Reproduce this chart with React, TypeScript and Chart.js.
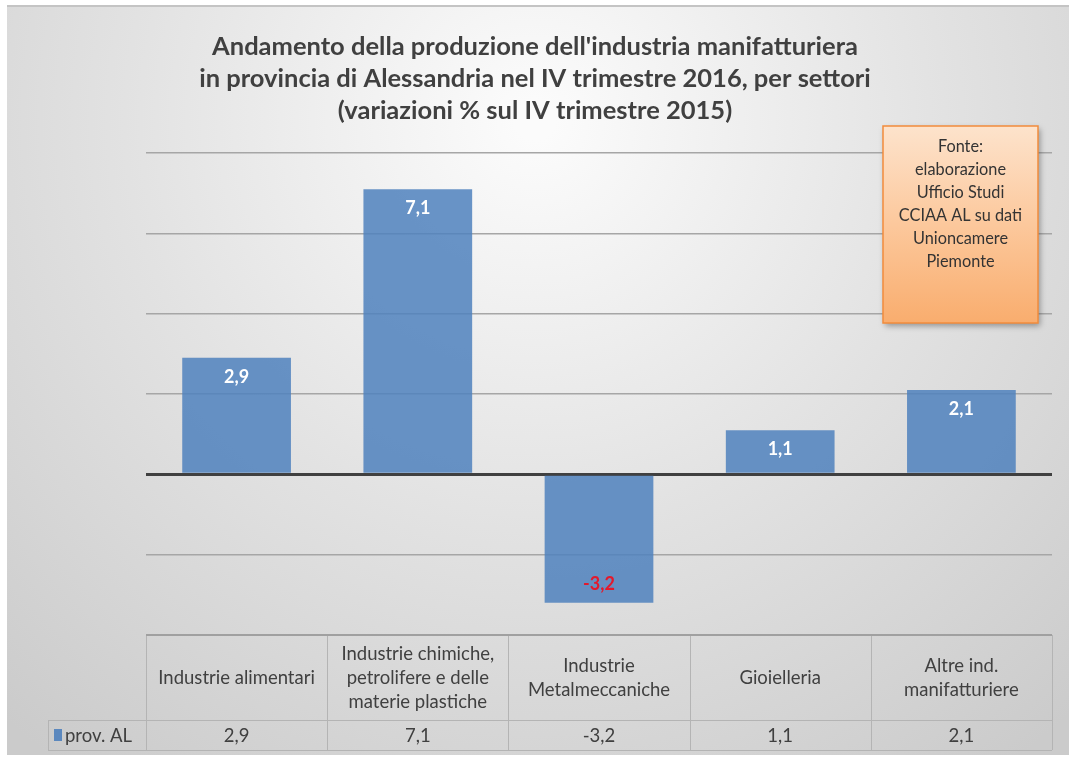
import React, { useEffect, useRef } from "react";
import { Chart, registerables } from "chart.js";

Chart.register(...registerables);

const categories: string[][] = [
  ["Industrie alimentari"],
  ["Industrie chimiche,", "petrolifere e delle", "materie plastiche"],
  ["Industrie", "Metalmeccaniche"],
  ["Gioielleria"],
  ["Altre ind.", "manifatturiere"],
];
const seriesName = "prov. AL";
const values = [2.9, 7.1, -3.2, 1.1, 2.1];
const titleLines = [
  "Andamento della produzione dell'industria manifatturiera",
  "in provincia di Alessandria nel IV trimestre 2016, per settori",
  "(variazioni % sul IV trimestre 2015)",
];
const noteLines = ["Fonte:", "elaborazione", "Ufficio Studi", "CCIAA AL su dati", "Unioncamere", "Piemonte"];
const fmt = (v: number) => v.toFixed(1).replace(".", ",");

const FONT = "Lato, 'Open Sans', sans-serif";

const bgPlugin = {
  id: "bg",
  beforeDraw(chart: any) {
    const ctx = chart.ctx;
    ctx.save();
    ctx.fillStyle = "#ffffff";
    ctx.fillRect(0, 0, chart.width, chart.height);
    const g = ctx.createRadialGradient(535, 120, 20, 535, 120, 800);
    g.addColorStop(0, "#fbfbfb");
    g.addColorStop(0.5, "#e2e2e2");
    g.addColorStop(1, "#cbcbcb");
    ctx.fillStyle = g;
    ctx.fillRect(7, 6, 1062, 749);
    ctx.fillStyle = "#c4c4c4";
    ctx.fillRect(7, 5, 1062, 2);
    // title
    ctx.fillStyle = "#404040";
    ctx.font = `bold 25.5px ${FONT}`;
    ctx.textAlign = "center";
    ctx.textBaseline = "middle";
    titleLines.forEach((t, i) => ctx.fillText(t, 535, 47 + i * 32));
    ctx.restore();
  },
};

const overlayPlugin = {
  id: "overlay",
  afterDraw(chart: any) {
    const ctx = chart.ctx;
    const xs = chart.scales.x;
    const ca = chart.chartArea;
    const n = categories.length;
    const step = (ca.right - ca.left) / n;
    ctx.save();
    // data labels
    const meta = chart.getDatasetMeta(0);
    ctx.font = `bold 18px ${FONT}`;
    ctx.textAlign = "center";
    ctx.textBaseline = "middle";
    meta.data.forEach((el: any, i: number) => {
      const v = values[i];
      if (v >= 0) {
        ctx.fillStyle = "#ffffff";
        ctx.fillText(fmt(v), el.x, el.y + 19);
      } else {
        ctx.fillStyle = "#e3192c";
        ctx.fillText(fmt(v), el.x, el.y - 19);
      }
    });

    // table
    const top = ca.bottom;
    const mid = top + 85;
    const bot = mid + 30;
    const legL = 48;
    ctx.strokeStyle = "#b4b4b4";
    ctx.lineWidth = 1;
    ctx.beginPath();
    ctx.moveTo(legL, mid + 0.5); ctx.lineTo(ca.right, mid + 0.5);
    ctx.moveTo(legL, bot + 0.5); ctx.lineTo(ca.right, bot + 0.5);
    ctx.moveTo(legL + 0.5, mid); ctx.lineTo(legL + 0.5, bot);
    for (let i = 0; i <= n; i++) {
      const x = Math.round(ca.left + i * step) + 0.5;
      ctx.moveTo(x, top); ctx.lineTo(x, bot);
    }
    ctx.stroke();
    ctx.strokeStyle = "#a0a0a0";
    ctx.lineWidth = 2;
    ctx.beginPath();
    ctx.moveTo(ca.left, top); ctx.lineTo(ca.right, top);
    ctx.stroke();

    ctx.fillStyle = "#404040";
    ctx.font = `18.5px ${FONT}`;
    categories.forEach((lines, i) => {
      const cx = xs.getPixelForValue(i);
      const cy = (top + mid) / 2 + 1;
      lines.forEach((l, j) => ctx.fillText(l, cx, cy + (j - (lines.length - 1) / 2) * 24));
      ctx.fillText(fmt(values[i]), cx, (mid + bot) / 2 + 1);
    });
    ctx.fillStyle = "rgba(79,129,189,0.9)";
    ctx.fillRect(54, 729, 8, 12);
    ctx.fillStyle = "#404040";
    ctx.textAlign = "left";
    ctx.fillText(seriesName, 65, (mid + bot) / 2 + 1);

    // note box
    const bx = 883, by = 126, bw = 155, bh = 197;
    ctx.save();
    ctx.shadowColor = "rgba(0,0,0,0.35)";
    ctx.shadowBlur = 6;
    ctx.shadowOffsetX = 2;
    ctx.shadowOffsetY = 3;
    const g = ctx.createLinearGradient(0, by, 0, by + bh);
    g.addColorStop(0, "#fde3cc");
    g.addColorStop(0.5, "#fcc89c");
    g.addColorStop(1, "#f9ad6e");
    ctx.fillStyle = g;
    ctx.fillRect(bx, by, bw, bh);
    ctx.restore();
    ctx.strokeStyle = "#f28c3c";
    ctx.lineWidth = 1.5;
    ctx.strokeRect(bx, by, bw, bh);
    ctx.fillStyle = "#333333";
    ctx.textAlign = "center";
    ctx.font = `16.3px ${FONT}`;
    noteLines.forEach((l, i) => ctx.fillText(l, bx + bw / 2, 147 + i * 23));
    ctx.restore();
  },
};

export default function App() {
  const ref = useRef<HTMLCanvasElement | null>(null);
  useEffect(() => {
    if (!ref.current) return;
    const chart = new Chart(ref.current, {
      type: "bar",
      data: {
        labels: categories.map((c) => c.join(" ")),
        datasets: [
          {
            label: seriesName,
            data: values,
            backgroundColor: "rgba(79,129,189,0.85)",
            borderWidth: 0,
            categoryPercentage: 1,
            barPercentage: 0.6,
          },
        ],
      },
      options: {
        animation: false,
        responsive: false,
        layout: { padding: { left: 146, right: 17, top: 153, bottom: 122 } },
        plugins: { legend: { display: false }, title: { display: false }, tooltip: { enabled: false } },
        scales: {
          x: { display: false },
          y: {
            min: -4,
            max: 8,
            ticks: { display: false, stepSize: 2 },
            border: { display: false },
            grid: {
              drawTicks: false,
              color: (c: any) => (c.tick && c.tick.value === 0 ? "#404040" : c.tick && c.tick.value === -4 ? "rgba(0,0,0,0)" : "#a6a6a6"),
              lineWidth: (c: any) => (c.tick && c.tick.value === 0 ? 3 : 1.5),
              z: 0,
            },
          },
        },
      },
      plugins: [bgPlugin, overlayPlugin],
    });
    return () => chart.destroy();
  }, []);
  return (
    <div style={{ position: "fixed", left: 0, top: 0, width: 1069, height: 757 }}>
      <canvas ref={ref} width={1069} height={757} style={{ display: "block", width: 1069, height: 757 }} />
    </div>
  );
}
